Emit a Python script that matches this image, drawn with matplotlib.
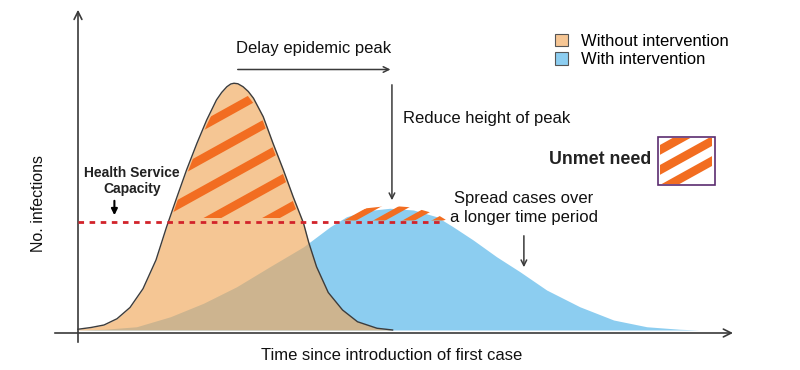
import numpy as np
import matplotlib
matplotlib.use("Agg")
import matplotlib.pyplot as plt
from matplotlib.patches import Patch, Rectangle, PathPatch

plt.rcParams['font.family'] = ['Liberation Sans', 'DejaVu Sans']

# curves (time units, infections units)
time_without = [0, 2, 4, 6, 8, 10, 12, 13.6, 15.2, 16.7, 18.3, 19.8, 21.3, 22.1,
                22.9, 23.5, 24.0, 24.6, 25.4, 26.2, 27.0, 28.5, 30.0, 31.6, 33.1,
                34.7, 35.5, 36.7, 38.5, 40.7, 43.0, 46.0, 48.4]
infections_without = [0.3, 1.0, 2.0, 4.5, 9.0, 16.5, 28.0, 41.0, 53.0, 64.0, 74.7,
                      84.0, 92.0, 95.0, 97.3, 98.4, 98.7, 98.5, 97.3, 95.4, 92.7,
                      85.3, 74.7, 64.0, 53.3, 42.7, 35.0, 25.3, 15.0, 8.0, 3.3, 0.7, 0]

time_with = [0, 4, 9.0, 14.2, 19.3, 24.4, 29.5, 34.7, 38.8, 41.3, 44.4, 48.0,
             51.6, 55.2, 57.7, 60.8, 64.4, 68.0, 72.1, 77.2, 82.4, 87.5, 92.6, 95.5]
infections_with = [0, 0.3, 1.3, 5.3, 10.7, 17.3, 25.3, 33.3, 41.3, 45.3, 47.7, 48.7,
                   48.0, 45.3, 41.3, 36.0, 29.3, 23.3, 16.0, 9.3, 4.0, 1.3, 0.3, 0]

capacity = 43.2
capacity_end = 56.2

legend_labels = ['Without intervention', 'With intervention']
orange_fill = '#F1A85B'
blue_fill = '#8CCDF0'
stripe_color = '#F26D21'
axis_color = '#3a3a3a'

t_o = np.array(time_without)
y_o = np.array(infections_without)
t_b = np.array(time_with)
y_b = np.array(infections_with)

fig = plt.figure(figsize=(8, 3.7), dpi=100)
ax = fig.add_axes([0, 0, 1, 1])
ax.set_xlim(-12, 111.08)
ax.set_ylim(-16, 132)
ax.axis('off')

# filled curves
ax.fill_between(t_b, 0, y_b, color=blue_fill, lw=0, zorder=1)
ax.fill_between(t_o, 0, y_o, color=orange_fill, alpha=0.65, lw=0, zorder=2)
ax.plot(t_o, y_o, color='#3c3c3c', lw=1, zorder=3)

# capacity line
ax.plot([0, capacity_end], [capacity, capacity], color='#D2232A', lw=2,
        dashes=(2, 2), zorder=5)

# unmet need stripes: thick diagonal bars clipped to the area above capacity
slope = np.tan(np.radians(29)) * 6.5 / 2.5
tt = np.array([-12, 112])


def stripes(offsets, clip, lw):
    for c in offsets:
        ln, = ax.plot(tt, slope * tt + c, color=stripe_color, lw=lw,
                      solid_capstyle='butt', zorder=4)
        ln.set_clip_path(clip)


def region(t, y, top_pad, bot_pad):
    top = y + top_pad
    bot = np.full_like(y, capacity + bot_pad)
    fb = ax.fill_between(t, bot, top, where=top > bot, interpolate=True,
                         facecolor='none', edgecolor='none')
    clip = PathPatch(fb.get_paths()[0], transform=ax.transData, visible=False)
    ax.add_patch(clip)
    return clip


clip_o = region(t_o, y_o, -2, 1.6)
stripes([54, 41, 28, 15, 2], clip_o, 6.2)

clip_b = region(t_b, y_b, 1.0, 0.6)
stripes([-16.5, -23, -29.5, -36], clip_b, 4.3)

# unmet need key box
box = Rectangle((89.2, 58), 8.8, 19.2, facecolor='white', edgecolor='#5B2C6F',
                lw=1.2, zorder=3)
ax.add_patch(box)
inner = Rectangle((89.5, 58.5), 8.0, 18.4, visible=False)
ax.add_patch(inner)
stripes([-57, -65, -73], inner, 6.2)
ax.text(88.2, 68.4, 'Unmet need', ha='right', va='center', fontsize=12.8,
        fontweight='bold', color='#222222')

# axes with arrows
ax.annotate('', xy=(0, 129.2), xytext=(0, -6),
            arrowprops=dict(arrowstyle='->', color=axis_color, lw=1.2,
                            mutation_scale=14))
ax.annotate('', xy=(101.2, -1.2), xytext=(-4, -1.2),
            arrowprops=dict(arrowstyle='->', color=axis_color, lw=1.2,
                            mutation_scale=14))
ax.text(-6, 50.8, 'No. infections', rotation=90, ha='center', va='center',
        fontsize=11.5, color='#111111')
ax.text(48.3, -10, 'Time since introduction of first case', ha='center',
        va='center', fontsize=12, color='#111111')

# annotations
ax.annotate('', xy=(48.5, 104.2), xytext=(24.15, 104.2),
            arrowprops=dict(arrowstyle='->', color=axis_color, lw=1.1))
ax.text(36.2, 112.8, 'Delay epidemic peak', ha='center', va='center',
        fontsize=12, color='#111111')
ax.annotate('', xy=(48.3, 50.8), xytext=(48.3, 99.2),
            arrowprops=dict(arrowstyle='->', color=axis_color, lw=1.1))
ax.text(50, 84.4, 'Reduce height of peak', ha='left', va='center',
        fontsize=12, color='#111111')
ax.text(68.6, 48.8, 'Spread cases over\na longer time period', ha='center',
        va='center', fontsize=12, linespacing=1.3, color='#111111')
ax.annotate('', xy=(68.6, 24), xytext=(68.6, 38.8),
            arrowprops=dict(arrowstyle='->', color=axis_color, lw=1.1))
ax.text(8.3, 59.6, 'Health Service\nCapacity', ha='center', va='center',
        fontsize=10, fontweight='bold', linespacing=1.15, color='#222222')
ax.annotate('', xy=(5.6, 44.8), xytext=(5.6, 52.8),
            arrowprops=dict(arrowstyle='-|>', color='black', lw=1.5,
                            mutation_scale=9))

handles = [Patch(facecolor='#F6C694', edgecolor='#555555', lw=0.8),
           Patch(facecolor=blue_fill, edgecolor='#555555', lw=0.8)]
ax.legend(handles, legend_labels, loc='upper left', frameon=False,
          bbox_to_anchor=(548 / 800, 1 - 27 / 370), fontsize=12,
          handlelength=0.8, handleheight=0.8, handletextpad=0.8,
          labelspacing=0.2, borderaxespad=0)

fig.savefig('out.png', dpi=100)
